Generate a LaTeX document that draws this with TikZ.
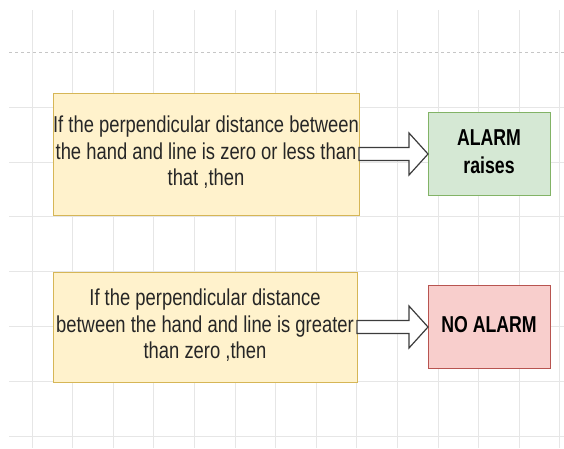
\documentclass[tikz,border=0pt]{standalone}
\usepackage{fontspec}
\setmainfont{Liberation Sans}
\usepackage{graphicx}
\usetikzlibrary{positioning,calc}

\definecolor{condfill}{HTML}{FFF2CC}
\definecolor{condline}{HTML}{D6B656}
\definecolor{alarmfill}{HTML}{D5E8D4}
\definecolor{alarmline}{HTML}{82B366}
\definecolor{quietfill}{HTML}{F8CECC}
\definecolor{quietline}{HTML}{B85450}
\definecolor{gridgray}{HTML}{E6E6E6}
\definecolor{textgray}{HTML}{262626}
\definecolor{arrowgray}{HTML}{3C3C3C}

\newcommand{\narrowtext}[2][0.77]{\scalebox{#1}[1]{\begin{tabular}{@{}c@{}}#2\end{tabular}}}

\tikzset{
  cond/.style={draw=condline, fill=condfill, line width=1pt, inner sep=0pt,
    outer sep=0pt, text=textgray, font=\fontsize{23}{26.5}\selectfont},
  result/.style={line width=1pt, inner sep=0pt, outer sep=0pt,
    minimum width=122pt, minimum height=83pt, text=black,
    font=\fontsize{23}{28}\selectfont\bfseries},
  flexarrow/.style={draw=arrowgray, fill=white, line width=1.2pt, line join=miter},
  gridline/.style={draw=gridgray, line width=0.8pt}
}

\begin{document}
\begin{tikzpicture}[x=1pt, y=-1pt]
  \useasboundingbox[fill=white] (0,0) rectangle (564,448);
  \foreach \gx in {0,...,13}
    \draw[gridline] (32+40.6*\gx,10) -- (32+40.6*\gx,448);
  \foreach \gy in {0,...,6}
    \draw[gridline] (9,107+54.9*\gy) -- (564,107+54.9*\gy);
  \draw[draw=gray!45, dashed, line width=0.8pt] (9,52) -- (564,52);

  \node[cond, minimum width=306pt, minimum height=122pt] (cond1) at (206,154)
    {\narrowtext[0.8]{If the perpendicular distance between\\the hand and line is zero or less than\\that ,then}};
  \node[result, draw=alarmline, fill=alarmfill, right=69pt of cond1] (alarm)
    {\narrowtext{ALARM\\raises}};

  \node[cond, minimum width=304pt, minimum height=110pt] (cond2) at (205,327)
    {\narrowtext[0.8]{If the perpendicular distance\\between the hand and line is greater\\than zero ,then}};
  \node[result, draw=quietline, fill=quietfill, right=71pt of cond2] (noalarm)
    {\narrowtext{NO ALARM}};

  \foreach \src/\dst in {cond1/alarm, cond2/noalarm}
    \draw[flexarrow] ($(\src.east)+(0,-6.5)$) -- ($(\dst.west)+(-19,-6.5)$)
      -- ($(\dst.west)+(-19,-21)$) -- (\dst.west) -- ($(\dst.west)+(-19,21)$)
      -- ($(\dst.west)+(-19,6.5)$) -- ($(\src.east)+(0,6.5)$) -- cycle;
\end{tikzpicture}
\end{document}
